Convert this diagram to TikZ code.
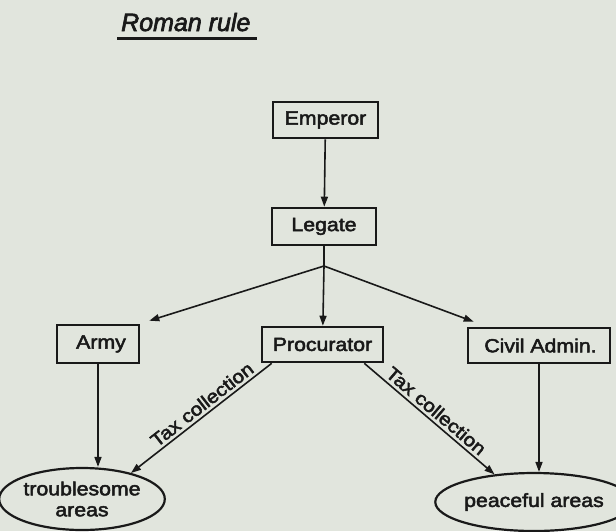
\documentclass[tikz,border=0pt]{standalone}
\usepackage{fontspec}
\setmainfont{Liberation Sans}
\newfontfamily\boxfont[FakeStretch=1.12,FakeBold=2.6]{Liberation Sans}
\newfontfamily\titlefont[FakeBold=2.6]{Liberation Sans}
\usetikzlibrary{arrows.meta,calc,shapes.geometric}
\definecolor{paper}{RGB}{225,229,221}
\definecolor{ink}{RGB}{25,25,25}
\begin{document}
\begin{tikzpicture}[x=1pt,y=-1pt,
  box/.style={draw=ink,line width=2.6pt,minimum height=36pt,inner sep=0pt,text=ink,
    font=\boxfont\fontsize{19}{21}\selectfont},
  oval/.style={draw=ink,line width=2.2pt,ellipse,inner sep=0pt,text=ink,align=center,
    font=\boxfont\fontsize{19}{21}\selectfont},
  link/.style={draw=ink,line width=1.6pt,-{Triangle[length=10pt,width=7pt]}},
  linkr/.style={draw=ink,line width=1.6pt,{Triangle[length=10pt,width=7pt]}-},
  plain/.style={draw=ink,line width=1.6pt},
  lbl/.style={font=\boxfont\fontsize{18.5}{20}\selectfont,text=ink,sloped,above,inner sep=3pt}]
\fill[paper] (0,0) rectangle (616,531);
\useasboundingbox (0,0) rectangle (616,531);

% title
\node[anchor=base west,inner sep=0pt,text=ink,font=\titlefont\itshape\fontsize{25}{28}\selectfont] (title) at (121,31) {Roman rule};
\draw[ink,line width=2.6pt] ($(title.base west)+(-4,7.5)$) -- ($(title.base east)+(6,7.5)$);

% boxes
\node[box,minimum width=105pt] (emperor) at (325.5,120) {Emperor};
\node[box,minimum width=104pt,minimum height=37pt] (legate) at (324,226.5) {Legate};
\node[box,minimum width=82pt,minimum height=38pt] (army) at (98,344) {\hspace*{6pt}Army};
\node[box,minimum width=121pt,minimum height=35pt] (proc) at (322.5,344.5) {Procurator};
\node[box,minimum width=142pt,minimum height=35pt] (civil) at (539,345.5) {\hspace*{3pt}Civil Admin.};
\node[oval,minimum width=150pt,minimum height=62pt] (trouble) at (82,499) {troublesome\\areas};
\node[oval,minimum width=163pt,minimum height=58pt] (peace) at (534,502) {peaceful areas};

% connectors
\coordinate (fork) at (324,266);
\draw[link] (emperor) -- (legate);
\draw[plain] (legate) -- (fork);
\draw[link] (fork) -- ([xshift=9pt,yshift=3pt]army.north east);
\draw[link] (fork) -- (proc);
\draw[link] (fork) -- ([xshift=7pt,yshift=5pt]civil.north west);
\draw[link] (army) -- (army |- trouble.north);
\draw[link] (civil) -- (civil |- peace.north);
\draw[linkr] (trouble.28) -- node[lbl,pos=0.55] {Tax collection} ([xshift=11pt]proc.south west);
\draw[link] ([xshift=-20pt]proc.south east) -- node[lbl,pos=0.5] {Tax collection} (peace.145);
\end{tikzpicture}
\end{document}
